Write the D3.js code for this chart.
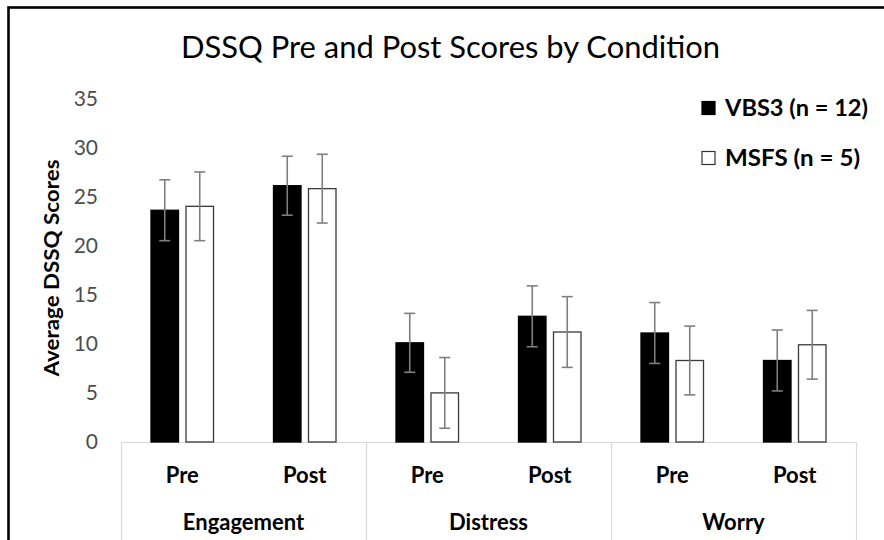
<!DOCTYPE html>
<html><head><meta charset="utf-8">
<script src="https://cdn.jsdelivr.net/npm/d3@7"></script>
<style>
html,body{margin:0;padding:0;background:#fff;}
text{font-family:Lato,"Open Sans",sans-serif;}
</style></head>
<body><div id="chart"></div>
<script>
const groups = ["Engagement", "Distress", "Worry"];
const phases = ["Pre", "Post"];
const seriesNames = ["VBS3 (n = 12)", "MSFS (n = 5)"];
const vbs3Values = [23.6, 26.1, 10.1, 12.8, 11.1, 8.3];
const vbs3Errors = [3.1, 3.0, 3.0, 3.1, 3.1, 3.1];
const msfsValues = [24.0, 25.8, 5.0, 11.2, 8.3, 9.9];
const msfsErrors = [3.5, 3.5, 3.6, 3.6, 3.5, 3.5];
const yTicks = [0, 5, 10, 15, 20, 25, 30, 35];
const titleText = "DSSQ Pre and Post Scores by Condition";
const yTitle = "Average DSSQ Scores";

const W = 884, H = 540;
const svg = d3.select("#chart").append("svg").attr("width", W).attr("height", H);
svg.append("rect").attr("width", W).attr("height", H).attr("fill", "#fff");
// frame
svg.append("rect").attr("x", 8.5).attr("y", 7.5).attr("width", 1000).attr("height", 1000)
  .attr("fill", "none").attr("stroke", "#000").attr("stroke-width", 2.6);

const plotL = 121, plotR = 856, y0px = 442, y35px = 98.3;
const y = d3.scaleLinear().domain([0, 35]).range([y0px, y35px]);
const x0 = d3.scaleBand().domain(groups).range([plotL, plotR]).padding(0);
const x1 = d3.scaleBand().domain(phases).range([0, x0.bandwidth()]).padding(0);
const x2 = d3.scaleBand().domain(seriesNames).range([0, x1.bandwidth()]).paddingInner(0.214).paddingOuter(0.857);

// title
svg.append("text").attr("x", 450.5).attr("y", 58).attr("text-anchor", "middle")
  .attr("font-size", 30).attr("fill", "#000").attr("textLength", 539).attr("lengthAdjust", "spacingAndGlyphs")
  .text(titleText);

// y axis (labels only)
const yAxis = svg.append("g").attr("transform", `translate(${plotL - 23},0)`)
  .call(d3.axisLeft(y).tickValues(yTicks).tickSize(0).tickPadding(0));
yAxis.select(".domain").remove();
yAxis.selectAll("text").attr("font-size", 21).attr("fill", "#4d4d4d")
  .attr("font-family", "Lato, 'Open Sans', sans-serif");

svg.append("text").attr("transform", "translate(59,268) rotate(-90)").attr("text-anchor", "middle")
  .attr("font-size", 20).attr("font-weight", "bold").attr("fill", "#000")
  .attr("textLength", 217).attr("lengthAdjust", "spacingAndGlyphs").text(yTitle);

// x axis line and separators
svg.append("line").attr("x1", plotL).attr("x2", plotR).attr("y1", y0px + 0.5).attr("y2", y0px + 0.5)
  .attr("stroke", "#d9d9d9").attr("stroke-width", 1.2);
const seps = groups.map(g => x0(g)).concat([x0(groups[groups.length - 1]) + x0.bandwidth()]);
svg.selectAll("line.sep").data(seps).enter().append("line").attr("class", "sep")
  .attr("x1", d => d + 0.5).attr("x2", d => d + 0.5).attr("y1", y0px).attr("y2", H)
  .attr("stroke", "#d9d9d9").attr("stroke-width", 1.2);

// data rows
const rows = [];
groups.forEach((g, gi) => phases.forEach((p, pi) => {
  const i = gi * phases.length + pi;
  rows.push({g, p, s: seriesNames[0], v: vbs3Values[i], e: vbs3Errors[i]});
  rows.push({g, p, s: seriesNames[1], v: msfsValues[i], e: msfsErrors[i]});
}));
const bx = d => x0(d.g) + x1(d.p) + x2(d.s);

svg.selectAll("rect.bar").data(rows).enter().append("rect").attr("class", "bar")
  .attr("x", d => bx(d)).attr("width", x2.bandwidth())
  .attr("y", d => y(d.v)).attr("height", d => y(0) - y(d.v))
  .attr("fill", d => d.s === seriesNames[0] ? "#000" : "#fff")
  .attr("stroke", d => d.s === seriesNames[0] ? "#000" : "#3a3a3a")
  .attr("stroke-width", 1.3);

// error bars
const eb = svg.append("g").attr("stroke", "#7f7f7f").attr("stroke-width", 1.6);
rows.forEach(d => {
  const cx = bx(d) + x2.bandwidth() / 2;
  eb.append("line").attr("x1", cx).attr("x2", cx).attr("y1", y(d.v + d.e)).attr("y2", y(d.v - d.e));
  eb.append("line").attr("x1", cx - 5.5).attr("x2", cx + 5.5).attr("y1", y(d.v + d.e)).attr("y2", y(d.v + d.e));
  eb.append("line").attr("x1", cx - 5.5).attr("x2", cx + 5.5).attr("y1", y(d.v - d.e)).attr("y2", y(d.v - d.e));
});

// category labels
groups.forEach(g => phases.forEach(p => {
  svg.append("text").attr("x", x0(g) + x1(p) + x1.bandwidth() / 2).attr("y", 483)
    .attr("text-anchor", "middle").attr("font-size", 22).attr("font-weight", "bold").attr("fill", "#000").text(p);
}));
svg.selectAll("text.grp").data(groups).enter().append("text").attr("class", "grp")
  .attr("x", d => x0(d) + x0.bandwidth() / 2).attr("y", 530).attr("text-anchor", "middle")
  .attr("font-size", 22).attr("font-weight", "bold").attr("fill", "#000").text(d => d);

// legend
const legY = [108, 158];
const legW = [143, 135];
seriesNames.forEach((s, i) => {
  svg.append("rect").attr("x", 702).attr("y", legY[i] - 6.5).attr("width", 13).attr("height", 13)
    .attr("fill", i === 0 ? "#000" : "#fff").attr("stroke", i === 0 ? "#000" : "#333").attr("stroke-width", 1.2);
  svg.append("text").attr("x", 725).attr("y", legY[i] + 7.5).attr("font-size", 22).attr("font-weight", "bold")
    .attr("fill", "#000").attr("textLength", legW[i]).attr("lengthAdjust", "spacingAndGlyphs").text(s);
});
</script></body></html>
